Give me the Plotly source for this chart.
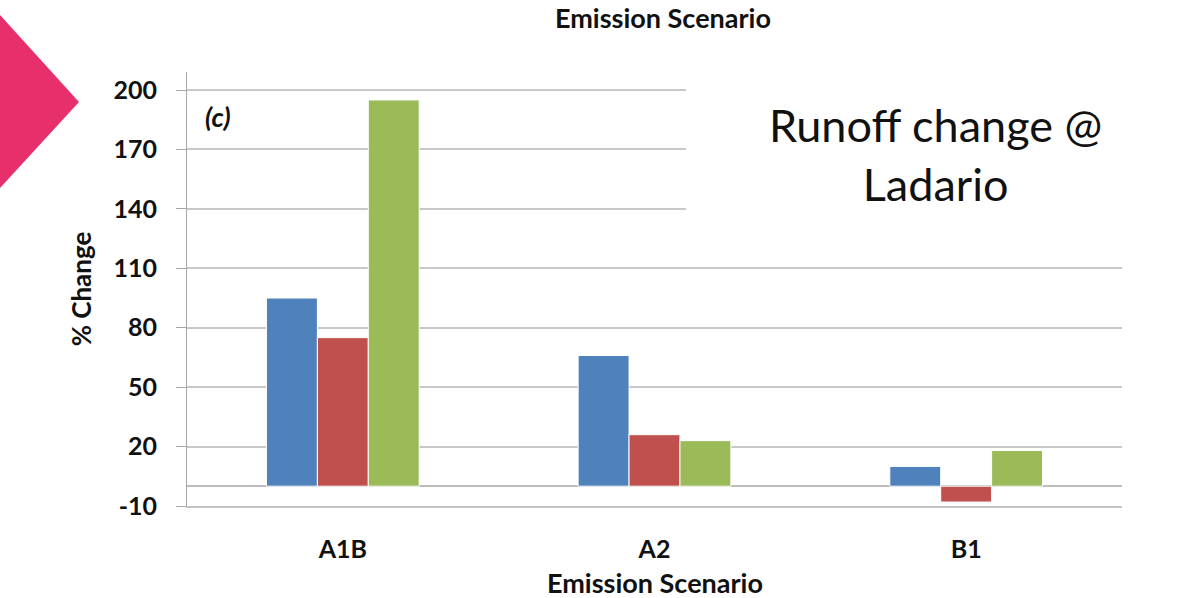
import plotly.graph_objects as go

# ---- data ----
scenarios = ["A1B", "A2", "B1"]
series_names = ["Model 1", "Model 2", "Model 3"]
series_1 = [95, 66, 10]
series_2 = [75, 26, -8]
series_3 = [195, 23, 18]
series_colors = ["#4F81BD", "#C0504D", "#9BBB59"]
y_ticks = [-10, 20, 50, 80, 110, 140, 170, 200]

W, H = 1191, 598
L, R, T, B = 187, 69, 72, 92
PW, PH = W - L - R, H - T - B


def px(x):
    return (x - L) / PW


def py(y):
    return 1 - (y - T) / PH


FONT = "Lato"
fig = go.Figure()
for name, vals, col in zip(series_names, [series_1, series_2, series_3], series_colors):
    fig.add_trace(go.Bar(x=scenarios, y=vals, name=name,
                         marker=dict(color=col, line=dict(color="white", width=1))))

fig.update_layout(
    width=W, height=H,
    margin=dict(l=L, r=R, t=T, b=B, autoexpand=False),
    paper_bgcolor="white", plot_bgcolor="white",
    barmode="group", bargap=0.51, bargroupgap=0,
    showlegend=False,
    font=dict(family=FONT, color="#111111"),
)
fig.update_xaxes(
    automargin=False,
    showgrid=False, ticks="", showline=True, linecolor="#C4C4C4", linewidth=1.5,
    tickfont=dict(size=25, weight="bold", family=FONT),
    ticklabelstandoff=20,
)
fig.update_yaxes(
    automargin=False,
    range=[-10, 209.1], tickvals=y_ticks, ticktext=[str(v) for v in y_ticks],
    showgrid=True, gridcolor="#C8C8C8", gridwidth=1.5,
    zeroline=True, zerolinecolor="#BDBDBD", zerolinewidth=1.5,
    showline=True, linecolor="#A6A6A6", linewidth=1,
    ticks="outside", ticklen=10, tickcolor="#A6A6A6", tickwidth=1,
    tickfont=dict(size=25, weight="bold", family=FONT),
    ticklabelstandoff=14,
    title=dict(text="% Change", font=dict(size=26, weight="bold", family=FONT), standoff=14),
)

# bottom axis title
fig.add_annotation(xref="paper", yref="paper", x=px(655), y=py(582),
                   xanchor="center", yanchor="middle", borderpad=0,
                   text="<b>Emission Scenario</b>", showarrow=False,
                   font=dict(size=27, family=FONT, color="#111111"))

# white text box covering gridlines
fig.add_shape(type="rect", xref="paper", yref="paper",
              x0=px(686), x1=px(1140), y0=py(255), y1=py(78),
              fillcolor="white", line=dict(width=0), layer="above")
fig.add_annotation(xref="paper", yref="paper", x=px(935), y=py(154),
                   xanchor="center", yanchor="middle",
                   text="Runoff change @<br>Ladario", showarrow=False,
                   font=dict(size=45, family=FONT, color="#111111"), align="center")

# panel label
fig.add_annotation(xref="paper", yref="paper", x=px(203), y=py(117),
                   xanchor="left", yanchor="middle",
                   text="<b><i>(c)</i></b>", showarrow=False,
                   font=dict(size=27, family=FONT, color="#111111"))

# top title (partly off-page in the reference)
fig.add_annotation(xref="paper", yref="paper", x=px(663), y=py(17),
                   xanchor="center", yanchor="middle", borderpad=0,
                   text="<b>Emission Scenario</b>", showarrow=False,
                   font=dict(size=27, family=FONT, color="#111111"))

# pink chevron
path = f"M {px(0)},{py(15)} L {px(79)},{py(102)} L {px(0)},{py(188)} Z"
fig.add_shape(type="path", xref="paper", yref="paper", path=path,
              fillcolor="#E72F6B", line=dict(width=0), layer="above")

fig.write_html("out.html", config={"displayModeBar": False},
               post_script="document.body.style.margin='0px';")
